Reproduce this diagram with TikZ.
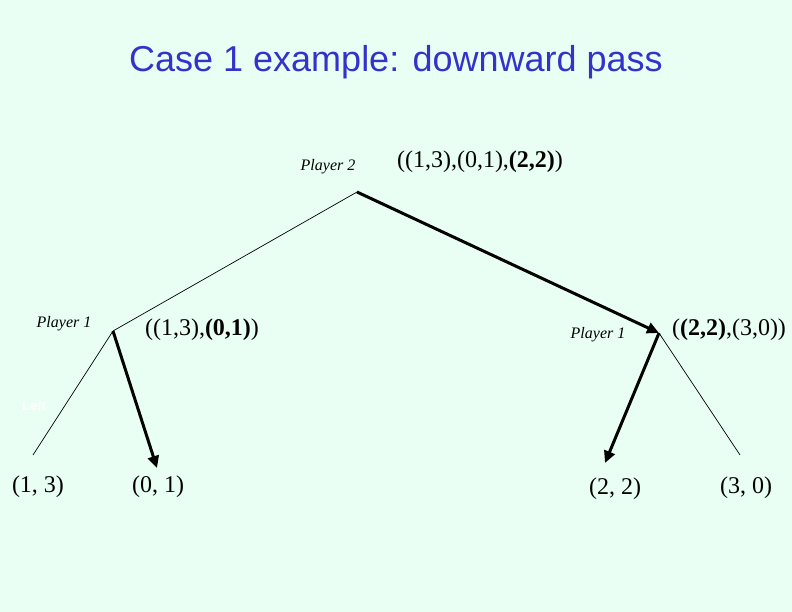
\documentclass[tikz,border=0pt]{standalone}
\usepackage{fontspec}
\setmainfont{Liberation Serif}
\newfontfamily\titlefont{Liberation Sans}
\usetikzlibrary{arrows.meta}
\definecolor{bg}{RGB}{234,255,244}
\definecolor{titleblue}{RGB}{51,51,204}
\tikzset{
  thin edge/.style={line width=0.7pt, black},
  best edge/.style={line width=3pt, black, -{Triangle[length=12pt,width=11pt]}},
  player/.style={font=\itshape\fontsize{16}{18}\selectfont, inner sep=0pt},
  payoff/.style={font=\fontsize{24}{28}\selectfont, inner sep=0pt},
  vertex/.style={inner sep=0pt, minimum size=0pt}
}
\begin{document}
\begin{tikzpicture}[x=1pt,y=-1pt]
\fill[bg] (0,0) rectangle (792,612);
\useasboundingbox (0,0) rectangle (792,612);
\node[font=\titlefont\fontsize{36}{40}\selectfont, text=titleblue, inner sep=0pt] (title) at (396,62) {Case 1 example: downward pass};
% vertices
\coordinate (root) at (357,192);
\coordinate (L) at (113,331);
\coordinate (R) at (659,333);
\coordinate (LL) at (33,455);
\coordinate (LR) at (157,468);
\coordinate (RL) at (605,463);
\coordinate (RR) at (740,455);
% edges
\draw[thin edge] (root) -- (L);
\draw[best edge] (root) -- (R);
\draw[thin edge] (L) -- (LL);
\draw[best edge] (L) -- (LR);
\draw[best edge] (R) -- (RL);
\draw[thin edge] (R) -- (RR);
% labels
\node[player] (p2) at (328,167) {Player 2};
\node[payoff] (v0) at (480,162) {((1,3),(0,1),\textbf{(2,2)})};
\node[player] (p1l) at (64,324) {Player 1};
\node[payoff] (v1) at (202,330) {((1,3),\textbf{(0,1)})};
\node[player] (p1r) at (598,335) {Player 1};
\node[payoff] (v2) at (729,330) {(\textbf{(2,2)},(3,0))};
\node[font=\titlefont\bfseries\fontsize{13}{15}\selectfont, text=white, inner sep=0pt] (left) at (34,406) {Left};
\node[payoff] (o1) at (38,487) {(1, 3)};
\node[payoff] (o2) at (158,487) {(0, 1)};
\node[payoff] (o3) at (615,489) {(2, 2)};
\node[payoff] (o4) at (746,488) {(3, 0)};
\end{tikzpicture}
\end{document}
